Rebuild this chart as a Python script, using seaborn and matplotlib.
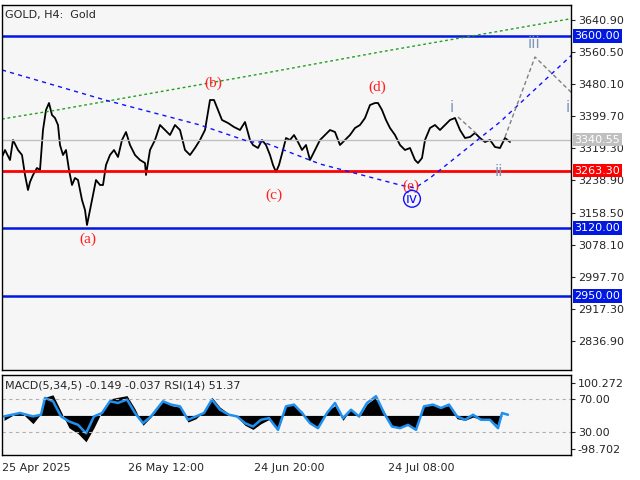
import numpy as np
import pandas as pd
import matplotlib
matplotlib.use("Agg")
import matplotlib.pyplot as plt
import seaborn as sns

# price path (bar position, close)
bars = [2, 5, 10, 13, 18, 22, 25, 28, 30, 33, 37, 40, 43, 46, 49, 52, 55, 58, 60, 63, 66, 69, 72, 75,
        78, 82, 85, 87, 90, 93, 96, 100, 103, 106, 110, 114, 118, 122, 126, 130, 135, 140, 145, 146,
        150, 155, 160, 165, 170, 175, 180, 185, 190, 195, 200, 205, 210, 214, 218, 222, 228, 234, 240,
        245, 250, 253, 258, 262, 266, 270, 273, 276, 279, 283, 286, 290, 294, 298, 302, 306, 310, 315,
        320, 325, 330, 335, 340, 345, 350, 355, 360, 365, 370, 375, 378, 382, 386, 390, 395, 400, 405,
        410, 415, 418, 422, 425, 430, 435, 440, 445, 450, 455, 460, 465, 470, 475, 480, 485, 490, 495,
        500, 505, 510]
close = [3297.5, 3315, 3290, 3340, 3315, 3302.5, 3252.5, 3215, 3235, 3252.5, 3270, 3265, 3365, 3415,
         3432.5, 3402.5, 3395, 3377.5, 3327.5, 3302.5, 3315, 3265, 3227.5, 3245, 3240, 3190, 3165,
         3127.5, 3165, 3202.5, 3240, 3227.5, 3227.5, 3277.5, 3302.5, 3315, 3297.5, 3340, 3360, 3327.5,
         3302.5, 3290, 3282.5, 3252.5, 3315, 3340, 3377.5, 3365, 3352.5, 3377.5, 3365, 3315, 3302.5,
         3320, 3340, 3365, 3440, 3440, 3415, 3390, 3382.5, 3372.5, 3365, 3385, 3340, 3327.5, 3320,
         3340, 3327.5, 3302.5, 3277.5, 3260, 3277.5, 3315, 3345, 3340, 3352.5, 3335, 3315, 3327.5, 3290,
         3315, 3340, 3352.5, 3365, 3360, 3327.5, 3340, 3352.5, 3370, 3377.5, 3395, 3427.5, 3432.5,
         3432.5, 3415, 3390, 3370, 3352.5, 3327.5, 3315, 3320, 3290, 3282.5, 3295, 3340, 3370, 3377.5,
         3365, 3377.5, 3390, 3395, 3365, 3345, 3347.5, 3357.5, 3345, 3335, 3340, 3322.5, 3320, 3345,
         3335]

levels_blue = [3600.00, 3120.00, 2950.00]
level_red = 3263.30
last_price = 3340.55

green_x = [2, 57, 260, 380, 575]
green_y = [3392.5, 3415, 3505, 3560, 3645]
blue_x = [2, 105, 200, 250, 263, 320, 400, 415, 430, 470, 500, 575]
blue_y = [3515, 3440, 3377.5, 3335, 3335, 3280, 3227.5, 3220, 3245, 3325, 3385, 3560]
fc1_x = [458, 478]
fc1_y = [3397.5, 3352.5]
fc2_x = [505, 535, 575]
fc2_y = [3347.5, 3547.5, 3450]

wave_red = [("(a)", 88, 3092), ("(b)", 213, 3482), ("(c)", 274, 3202), ("(d)", 377, 3472), ("(e)", 411, 3225)]
wave_sub = [("i", 452, 3420), ("ii", 499, 3262), ("iii", 534, 3580), ("i", 568, 3420)]

price_ticks = [3640.90, 3560.50, 3480.10, 3399.70, 3319.30, 3238.90, 3158.50, 3078.10, 2997.70, 2917.30, 2836.90]

# indicator panel
ind_x = [4, 20, 33, 41, 45, 53, 61, 69, 78, 86, 94, 102, 110, 118, 127, 135, 143, 151, 163, 171, 180,
         188, 196, 204, 212, 220, 229, 237, 245, 253, 261, 269, 278, 286, 294, 302, 310, 318, 327, 335,
         343, 351, 359, 367, 376, 384, 392, 400, 408, 416, 424, 433, 441, 449, 457, 465, 473, 481, 490,
         498, 502, 508]
rsi = [48.8, 52.9, 48.8, 50.8, 71.2, 67.1, 48.8, 42.7, 38.6, 28.4, 48.8, 52.9, 67.1, 65.1, 69.2, 52.9,
       40.6, 48.8, 67.1, 63.1, 61.0, 44.7, 48.8, 52.9, 69.2, 56.9, 50.8, 48.8, 40.6, 36.5, 44.7, 46.7,
       32.5, 61.0, 63.1, 52.9, 40.6, 34.5, 52.9, 65.1, 46.7, 56.9, 48.8, 65.1, 73.3, 52.9, 36.5, 34.5,
       38.6, 32.5, 61.0, 63.1, 59.0, 63.1, 48.8, 44.7, 50.8, 44.7, 44.7, 34.5, 52.9, 50.8]
macd = [44, 55, 40, 52, 72, 75, 55, 35, 28, 18, 35, 55, 70, 72, 74, 58, 38, 48, 68, 62, 60, 42, 46,
        55, 72, 60, 52, 48, 38, 33, 40, 45, 32, 62, 62, 55, 40, 36, 55, 62, 44, 58, 48, 64, 72, 55, 36,
        36, 38, 34, 62, 64, 60, 62, 46, 44, 48, 45, 44, 38, 50, 50]

sns.set_style("white")
plt.rcParams["font.family"] = ["DejaVu Sans"]
bg = "#f6f6f6"

fig = plt.figure(figsize=(6.4, 4.8), dpi=100)
ax = fig.add_axes([2 / 640, 1 - 370 / 480, 569 / 640, 365 / 480], facecolor=bg)
ax2 = fig.add_axes([2 / 640, 1 - 455 / 480, 569 / 640, 80 / 480], facecolor=bg)

df = pd.DataFrame({"bar": bars, "close": close})
sns.lineplot(data=df, x="bar", y="close", ax=ax, color="black", lw=1.3)

for lv in levels_blue:
    ax.axhline(lv, color="#0018e0", lw=1.8)
ax.axhline(level_red, color="#ff0000", lw=2)
ax.axhline(last_price, color="#c0c0c0", lw=1)
ax.plot(green_x, green_y, color="#20a020", ls=(0, (2, 2)), lw=1)
ax.plot(blue_x, blue_y, color="#1010ff", ls=(0, (3, 3)), lw=1)
ax.plot(fc1_x, fc1_y, color="#808080", ls=(0, (3, 2)), lw=1)
ax.plot(fc2_x, fc2_y, color="#808080", ls=(0, (3, 2)), lw=1)

for t, x, y in wave_red:
    ax.text(x, y, t, color="#ff2020", fontsize=11, ha="center", va="center", family="Liberation Serif")
ax.text(412, 3193, "iv", color="#1010ff", fontsize=10, ha="center", va="center",
        bbox=dict(boxstyle="circle,pad=0.1", fc="none", ec="#1010ff"))
for t, x, y in wave_sub:
    ax.text(x, y, t, color="#7f98b8", fontsize=11, ha="center", va="center")

ax.text(0.005, 0.985, "GOLD, H4:  Gold", transform=ax.transAxes, fontsize=8, va="top")
ax.set_xlim(2, 571)
ax.set_ylim(2765, 3677.5)
ax.yaxis.tick_right()
ax.set_yticks(price_ticks)
ax.set_yticklabels([f"{p:.2f}" for p in price_ticks])
ax.tick_params(axis="y", labelsize=8, length=3, pad=2, right=True)
ax.set_xticks([])
ax.set_xlabel("")
ax.set_ylabel("")
for val, col, tc in [(3600.00, "#0018e0", "white"), (last_price, "#c0c0c0", "white"),
                     (level_red, "#ff0000", "white"), (3120.00, "#0018e0", "white"),
                     (2950.00, "#0018e0", "white")]:
    ax.text(1.006, val, f"{val:.2f}", transform=ax.get_yaxis_transform(), fontsize=8, color=tc,
            va="center", ha="left", bbox=dict(boxstyle="square,pad=0.15", fc=col, ec="none"))

# indicator
ax2.fill_between(ind_x, 50, macd, color="black", lw=0)
ax2.plot(ind_x, rsi, color="#2090f0", lw=1.8)
for lv in [70, 30]:
    ax2.axhline(lv, color="#b0b0b0", ls=(0, (3, 3)), lw=0.8)
ax2.text(0.005, 0.93, "MACD(5,34,5) -0.149 -0.037 RSI(14) 51.37", transform=ax2.transAxes,
         fontsize=8, va="top")
ax2.set_xlim(2, 571)
ax2.set_ylim(2, 99)
ax2.yaxis.tick_right()
ax2.set_yticks([89.4, 70, 30, 9.4])
ax2.set_yticklabels(["100.272", "70.00", "30.00", "-98.702"])
ax2.tick_params(axis="y", labelsize=8, length=3, pad=2)
ax2.set_xticks([2, 128, 254, 388])
ax2.set_xticklabels(["25 Apr 2025", "26 May 12:00", "24 Jun 20:00", "24 Jul 08:00"], ha="left")
ax2.tick_params(axis="x", labelsize=8, length=4, pad=2)
for a in (ax, ax2):
    for s in a.spines.values():
        s.set_color("black")
        s.set_linewidth(1)

fig.savefig("out.png", dpi=100)
